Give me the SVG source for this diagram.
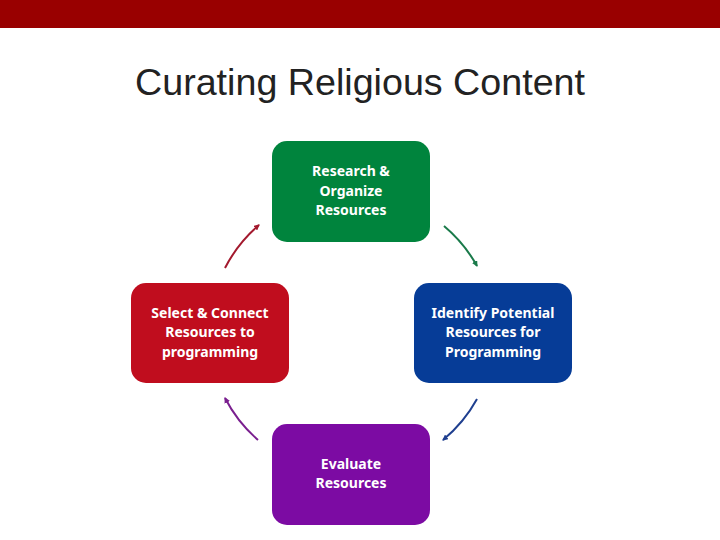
<svg xmlns="http://www.w3.org/2000/svg" width="720" height="540" viewBox="0 0 720 540">
<defs>
<style>
.box{stroke:none}
.lbl{font-family:"Noto Sans","Open Sans",sans-serif;font-weight:bold;font-size:14px;fill:#ffffff;text-anchor:middle}
.arc{fill:none;stroke-width:2}
</style>
<marker id="mR" markerWidth="6" markerHeight="6" refX="5" refY="3" orient="auto" markerUnits="userSpaceOnUse"><path d="M0,0 L6,3 L0,6 z" fill="#A3192E"/></marker>
<marker id="mG" markerWidth="6" markerHeight="6" refX="5" refY="3" orient="auto" markerUnits="userSpaceOnUse"><path d="M0,0 L6,3 L0,6 z" fill="#1A7A4A"/></marker>
<marker id="mB" markerWidth="6" markerHeight="6" refX="5" refY="3" orient="auto" markerUnits="userSpaceOnUse"><path d="M0,0 L6,3 L0,6 z" fill="#1F3F8F"/></marker>
<marker id="mP" markerWidth="6" markerHeight="6" refX="5" refY="3" orient="auto" markerUnits="userSpaceOnUse"><path d="M0,0 L6,3 L0,6 z" fill="#7A1F8F"/></marker>
</defs>
<rect x="0" y="0" width="720" height="28" fill="#990000"/>
<text x="360" y="95" font-family="Liberation Sans, Arial, sans-serif" font-size="36" fill="#222222" text-anchor="middle" textLength="450" lengthAdjust="spacingAndGlyphs">Curating Religious Content</text>
<g id="connectors">
<path class="arc" stroke="#1A7A4A" d="M444,226 A142,142 0 0 1 477,266" marker-end="url(#mG)"/>
<path class="arc" stroke="#1F3F8F" d="M477,399 A142,142 0 0 1 443,440" marker-end="url(#mB)"/>
<path class="arc" stroke="#7A1F8F" d="M258,440 A142,142 0 0 1 225,398" marker-end="url(#mP)"/>
<path class="arc" stroke="#A3192E" d="M225,268 A142,142 0 0 1 259,225" marker-end="url(#mR)"/>
</g>
<g id="research">
<rect class="box" x="272" y="141" width="158" height="101" rx="15" fill="#00843D"/>
<text class="lbl" x="351" y="176">Research &amp;</text>
<text class="lbl" x="351" y="196">Organize</text>
<text class="lbl" x="351" y="215">Resources</text>
</g>
<g id="identify">
<rect class="box" x="414" y="283" width="158" height="100" rx="15" fill="#063C97"/>
<text class="lbl" x="493" y="318">Identify Potential</text>
<text class="lbl" x="493" y="337">Resources for</text>
<text class="lbl" x="493" y="357">Programming</text>
</g>
<g id="evaluate">
<rect class="box" x="272" y="424" width="158" height="101" rx="15" fill="#7C0BA3"/>
<text class="lbl" x="351" y="469">Evaluate</text>
<text class="lbl" x="351" y="488">Resources</text>
</g>
<g id="select">
<rect class="box" x="131" y="283" width="158" height="100" rx="15" fill="#C00D1E"/>
<text class="lbl" x="210" y="318">Select &amp; Connect</text>
<text class="lbl" x="210" y="337">Resources to</text>
<text class="lbl" x="210" y="357">programming</text>
</g>
</svg>
